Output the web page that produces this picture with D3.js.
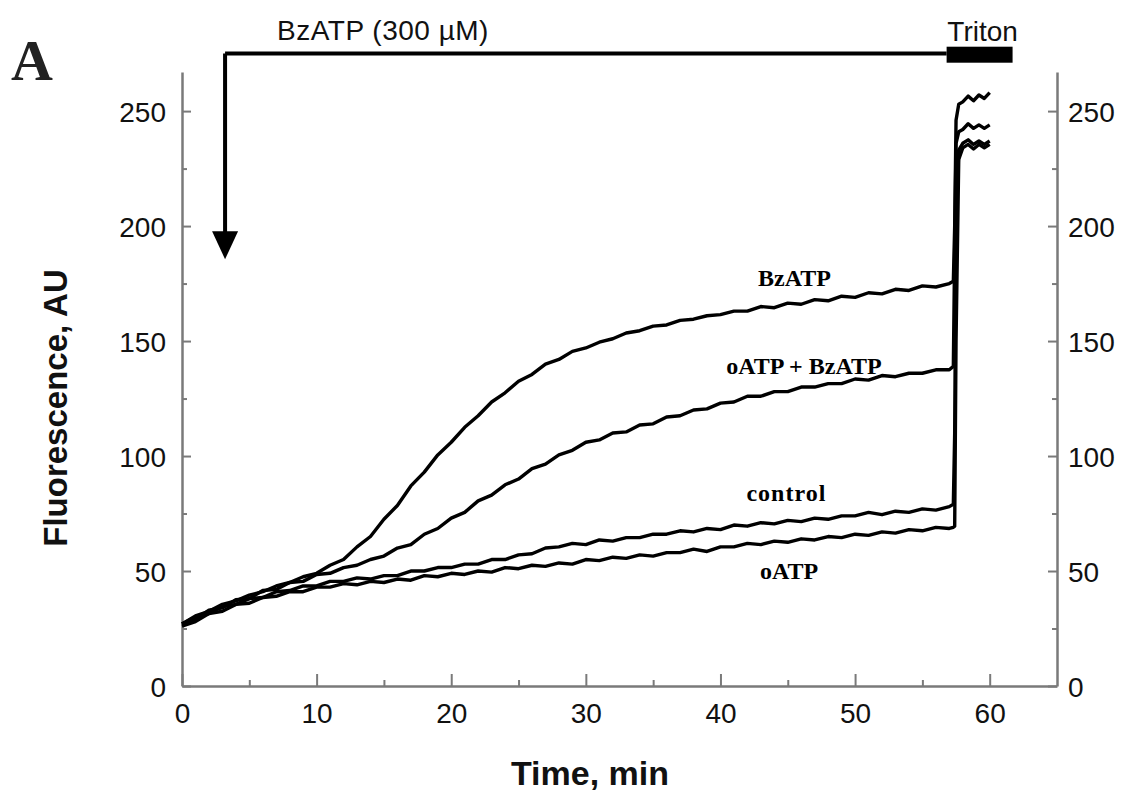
<!DOCTYPE html>
<html lang="en">
<head>
    <meta charset="utf-8">
    <title>Fluorescence vs time, BzATP</title>
    <script src="https://d3js.org/d3.v7.min.js"></script>
    <style>
        body { margin: 0; background: #fff; }
        svg { display: block; font-family: 'Liberation Sans', Arial, sans-serif; }
    </style>
</head>
<body>
<div id="chart"></div>
<script>
/* global d3 */

// time points (min) - the baseline run then the Triton lysis step
var minutes = [0, 1, 2, 3, 4, 5, 6, 7, 8, 9, 10, 11, 12, 13, 14, 15, 16, 17, 18, 19,
    20, 21, 22, 23, 24, 25, 26, 27, 28, 29, 30, 31, 32, 33, 34, 35, 36, 37, 38, 39,
    40, 41, 42, 43, 44, 45, 46, 47, 48, 49, 50, 51, 52, 53, 54, 55, 56, 57,
    57.3, 57.4, 57.5, 57.7, 58, 58.4, 58.8, 59.2, 59.6, 60];

var bzatp = [27, 30.5, 32.5, 35.5, 37, 39.5, 41, 43.5, 45, 47.5, 49, 52.5, 55, 60.5, 65, 72.5, 78.5, 87, 93, 100.5,
    106, 112.5, 117.5, 123.5, 127.5, 132.5, 135.5, 140, 142, 145.5, 147, 149.5, 151, 153.5, 154.5, 156.5, 157, 159, 159.5, 161,
    161.5, 163, 163, 165, 164.5, 166.5, 166, 168, 167.5, 169.5, 169, 171, 170.5, 172.5, 172, 174, 173.5, 175,
    176, 200, 246, 253, 254, 256.5, 254.5, 257, 255.5, 258];

var oatpBzatp = [27, 29, 33, 34, 37.5, 38, 41.5, 42, 45, 45.5, 48.5, 49, 51.5, 52.5, 55, 56.5, 60, 61.5, 66, 68.5,
    73, 75.5, 80.5, 83, 87.5, 90, 94.5, 96.5, 100.5, 102.5, 106, 107, 110, 110.5, 113.5, 114, 117, 117.5, 120, 120.5,
    123, 123.5, 126, 126, 128, 128, 130, 130, 131.5, 131.5, 133.5, 133, 135, 134.5, 136, 136, 137.5, 137.5,
    139, 190, 236, 241, 242, 244.5, 242.5, 244, 242.5, 244];

var control = [27, 30, 31.5, 34.5, 35.5, 38, 38.5, 41, 41.5, 43.5, 43.5, 45.5, 45.5, 47, 46.5, 48, 48, 50, 50, 51.5,
    51.5, 53, 53, 55, 55, 57, 57.5, 60, 60.5, 62, 61.5, 63.5, 63, 64.5, 64.5, 66, 66, 67.5, 67, 68.5,
    68, 70, 69.5, 71, 70.5, 72, 71.5, 73, 72.5, 74, 74, 75.5, 74.5, 76, 75.5, 77, 76.5, 78,
    79, 110, 200, 233, 236, 237.5, 235.5, 237, 235.5, 237];

var oatp = [26, 28, 31.5, 32.5, 35.5, 36, 38.5, 39, 41, 41, 43, 43, 44.5, 44, 45.5, 45, 46.5, 46, 48, 47.5,
    49, 48.5, 50, 49.5, 51.5, 51, 52.5, 52, 53.5, 53, 55, 54.5, 56, 55.5, 57, 56.5, 58, 58, 59.5, 58.5,
    60.5, 60.5, 62, 61.5, 63, 62.5, 64, 63.5, 65, 64.5, 66, 65.5, 67, 66.5, 68, 67.5, 69, 68.5,
    69, 69.5, 150, 229, 234, 235.5, 233.5, 235.5, 234, 235.5];

var seriesNames = ["BzATP", "oATP + BzATP", "control", "oATP"];
var seriesValues = [bzatp, oatpBzatp, control, oatp];

var xTicks = [0, 10, 20, 30, 40, 50, 60];
var xMinor = [5, 15, 25, 35, 45, 55];
var yTicks = [0, 50, 100, 150, 200, 250];
var yMinor = [25, 75, 125, 175, 225];

// treatment annotations (min)
var bzatpStart = 3.2;
var tritonStart = 56.8,
    tritonEnd = 61.7;

var width = 1124,
    height = 796;

var x = d3.scaleLinear().domain([0, 65]).range([182, 1057]);
var y = d3.scaleLinear().domain([0, 267]).range([686, 72]);

var svg = d3.select('#chart').append('svg')
    .attr('width', width)
    .attr('height', height);

svg.append('rect').attr('width', width).attr('height', height).attr('fill', '#fff');

var axisColor = '#7a7a7a';

function styleAxis(g) {
    g.select('.domain').attr('stroke', axisColor).attr('stroke-width', 2.5);
    g.selectAll('.tick line').attr('stroke', axisColor).attr('stroke-width', 2);
    g.selectAll('.tick text')
        .attr('fill', '#111')
        .style('font-size', '28px');
}

// left axis
svg.append('g')
    .attr('transform', 'translate(' + x(0) + ',0)')
    .call(d3.axisLeft(y).tickValues(yTicks).tickSizeInner(-9).tickSizeOuter(0).tickPadding(16))
    .call(styleAxis)
    .selectAll('.tick text').attr('dy', '0.36em');
svg.append('g')
    .attr('transform', 'translate(' + x(0) + ',0)')
    .call(d3.axisLeft(y).tickValues(yMinor).tickSize(-5).tickFormat(''))
    .call(styleAxis)
    .select('.domain').remove();

// right axis
svg.append('g')
    .attr('transform', 'translate(' + x(65) + ',0)')
    .call(d3.axisRight(y).tickValues(yTicks).tickSizeInner(-9).tickSizeOuter(0).tickPadding(11))
    .call(styleAxis)
    .selectAll('.tick text').attr('dy', '0.36em');
svg.append('g')
    .attr('transform', 'translate(' + x(65) + ',0)')
    .call(d3.axisRight(y).tickValues(yMinor).tickSize(-5).tickFormat(''))
    .call(styleAxis)
    .select('.domain').remove();

// bottom axis
svg.append('g')
    .attr('transform', 'translate(0,' + y(0) + ')')
    .call(d3.axisBottom(x).tickValues(xTicks).tickSizeInner(-12).tickSizeOuter(0).tickPadding(12))
    .call(styleAxis)
    .selectAll('.tick text').attr('dy', '0.9em');
svg.append('g')
    .attr('transform', 'translate(0,' + y(0) + ')')
    .call(d3.axisBottom(x).tickValues(xMinor).tickSize(-6).tickFormat(''))
    .call(styleAxis)
    .select('.domain').remove();

// traces
var line = d3.line()
    .x(function(d, i) { return x(minutes[i]); })
    .y(function(d) { return y(d); });

svg.append('g').selectAll('path')
    .data(seriesValues)
    .join('path')
    .attr('d', line)
    .attr('fill', 'none')
    .attr('stroke', '#000')
    .attr('stroke-width', 3.4)
    .attr('stroke-linejoin', 'round');

// trace labels
var labelSpots = [
    {t: 45.5, v: 174, ls: 0},
    {t: 46.2, v: 135.5, ls: 0},
    {t: 44.9, v: 80.5, ls: 1},
    {t: 45.1, v: 46.5, ls: 0}
];

svg.append('g').selectAll('text')
    .data(seriesNames)
    .join('text')
    .attr('x', function(d, i) { return x(labelSpots[i].t); })
    .attr('y', function(d, i) { return y(labelSpots[i].v); })
    .attr('text-anchor', 'middle')
    .style('font-family', "'Liberation Serif', 'Times New Roman', serif")
    .style('font-weight', 'bold')
    .style('font-size', '24px')
    .style('letter-spacing', function(d, i) { return labelSpots[i].ls + 'px'; })
    .text(function(d) { return d; });

// BzATP addition bracket + arrow
var topV = 275;
svg.append('path')
    .attr('d', 'M' + x(bzatpStart) + ',' + y(topV) + 'H' + x(tritonStart) +
        'M' + x(bzatpStart) + ',' + y(topV) + 'V' + (y(186) - 24))
    .attr('fill', 'none')
    .attr('stroke', '#000')
    .attr('stroke-width', 4);

svg.append('path')
    .attr('d', 'M' + (x(bzatpStart) - 13) + ',' + (y(186) - 27) +
        'L' + (x(bzatpStart) + 13) + ',' + (y(186) - 27) +
        'L' + x(bzatpStart) + ',' + (y(186) + 1) + 'Z')
    .attr('fill', '#000');

svg.append('text')
    .attr('x', 277)
    .attr('y', 40)
    .style('font-size', '28px')
    .style('letter-spacing', '0.5px')
    .attr('fill', '#111')
    .text('BzATP (300 µM)');

// Triton bar
svg.append('rect')
    .attr('x', x(tritonStart))
    .attr('y', y(278))
    .attr('width', x(tritonEnd) - x(tritonStart))
    .attr('height', 16)
    .attr('fill', '#000');

svg.append('text')
    .attr('x', (x(tritonStart) + x(tritonEnd)) / 2 + 3)
    .attr('y', 41)
    .attr('text-anchor', 'middle')
    .style('font-size', '28px')
    .attr('fill', '#111')
    .text('Triton');

// axis titles
svg.append('text')
    .attr('transform', 'translate(67,408) rotate(-90)')
    .attr('text-anchor', 'middle')
    .style('font-size', '33px')
    .style('font-weight', 'bold')
    .attr('fill', '#111')
    .text('Fluorescence, AU');

svg.append('text')
    .attr('x', 590)
    .attr('y', 785)
    .attr('text-anchor', 'middle')
    .style('font-size', '34px')
    .style('font-weight', 'bold')
    .attr('fill', '#111')
    .text('Time, min');

// panel letter
svg.append('text')
    .attr('x', 11)
    .attr('y', 80)
    .style('font-family', "'Liberation Serif', 'Times New Roman', serif")
    .style('font-weight', 'bold')
    .style('font-size', '58px')
    .attr('fill', '#222')
    .text('A');
</script>
</body>
</html>
